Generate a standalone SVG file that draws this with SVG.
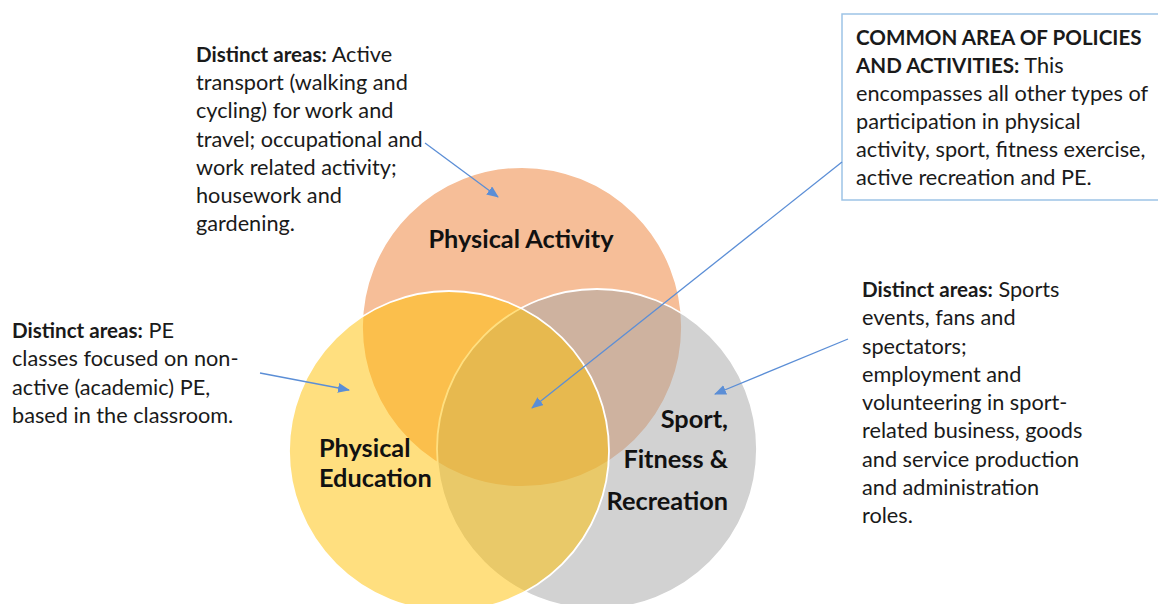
<svg xmlns="http://www.w3.org/2000/svg" width="1158" height="604" viewBox="0 0 1158 604">
<style>
.c{stroke:#fff;stroke-width:1.8;fill-opacity:0.5}
.t{font-family:Lato,"Open Sans",sans-serif;font-size:21.7px;fill:#1a1a1a}
.b{font-weight:bold;font-size:20.6px}
.lbl{font-family:Lato,"Open Sans",sans-serif;font-size:25.3px;font-weight:bold;fill:#111}
.a{stroke:#5B8ED6;stroke-width:1.3;fill:none;marker-end:url(#ah)}
</style>
<defs>
<marker id="ah" viewBox="0 0 12 10" refX="11" refY="5" markerWidth="12" markerHeight="10" markerUnits="userSpaceOnUse" orient="auto">
<path d="M0,0 L12,5 L0,10 Z" fill="#5B8ED6"/>
</marker>
</defs>
<rect width="1158" height="604" fill="#fff"/>
<g id="node-pa"><circle class="c" cx="522" cy="327" r="160" fill="#ED7D31"/></g>
<g id="node-sfr"><circle class="c" cx="597" cy="449" r="160" fill="#A5A5A5"/></g>
<g id="node-pe"><circle class="c" cx="449" cy="451" r="160" fill="#FFC000"/></g>
<g id="labels">
<text class="lbl" x="521" y="248" text-anchor="middle">Physical Activity</text>
<text class="lbl" x="319" y="457">Physical</text>
<text class="lbl" x="319" y="487">Education</text>
<text class="lbl" x="728" y="428" text-anchor="end">Sport,</text>
<text class="lbl" x="728" y="468" text-anchor="end">Fitness &amp;</text>
<text class="lbl" x="728" y="510" text-anchor="end">Recreation</text>
</g>
<g id="note-pa" class="t">
<text x="196" y="62"><tspan class="b">Distinct areas:</tspan> Active</text>
<text x="196" y="90">transport (walking and</text>
<text x="196" y="118">cycling) for work and</text>
<text x="196" y="147">travel; occupational and</text>
<text x="196" y="175">work related activity;</text>
<text x="196" y="203">housework and</text>
<text x="196" y="231">gardening.</text>
</g>
<g id="note-pe" class="t">
<text x="12" y="338"><tspan class="b">Distinct areas:</tspan> PE</text>
<text x="12" y="366">classes focused on non-</text>
<text x="12" y="395">active (academic) PE,</text>
<text x="12" y="423">based in the classroom.</text>
</g>
<g id="note-common">
<rect x="842" y="14" width="330" height="186" fill="#fff" stroke="#9DC3E6" stroke-width="1.5"/>
<g class="t">
<text x="856" y="45" class="b">COMMON AREA OF POLICIES</text>
<text x="856" y="73"><tspan class="b">AND ACTIVITIES:</tspan> This</text>
<text x="856" y="101">encompasses all other types of</text>
<text x="856" y="129">participation in physical</text>
<text x="856" y="157">activity, sport, fitness exercise,</text>
<text x="856" y="185">active recreation and PE.</text>
</g>
</g>
<g id="note-sfr" class="t">
<text x="862" y="297"><tspan class="b">Distinct areas:</tspan> Sports</text>
<text x="862" y="325">events, fans and</text>
<text x="862" y="354">spectators;</text>
<text x="862" y="382">employment and</text>
<text x="862" y="410">volunteering in sport-</text>
<text x="862" y="438">related business, goods</text>
<text x="862" y="467">and service production</text>
<text x="862" y="495">and administration</text>
<text x="862" y="523">roles.</text>
</g>
<g id="connectors">
<line class="a" x1="425" y1="143" x2="498" y2="197"/>
<line class="a" x1="260" y1="373" x2="349" y2="390"/>
<line class="a" x1="842" y1="162" x2="532" y2="408"/>
<line class="a" x1="848" y1="339" x2="715" y2="394"/>
</g>
</svg>
